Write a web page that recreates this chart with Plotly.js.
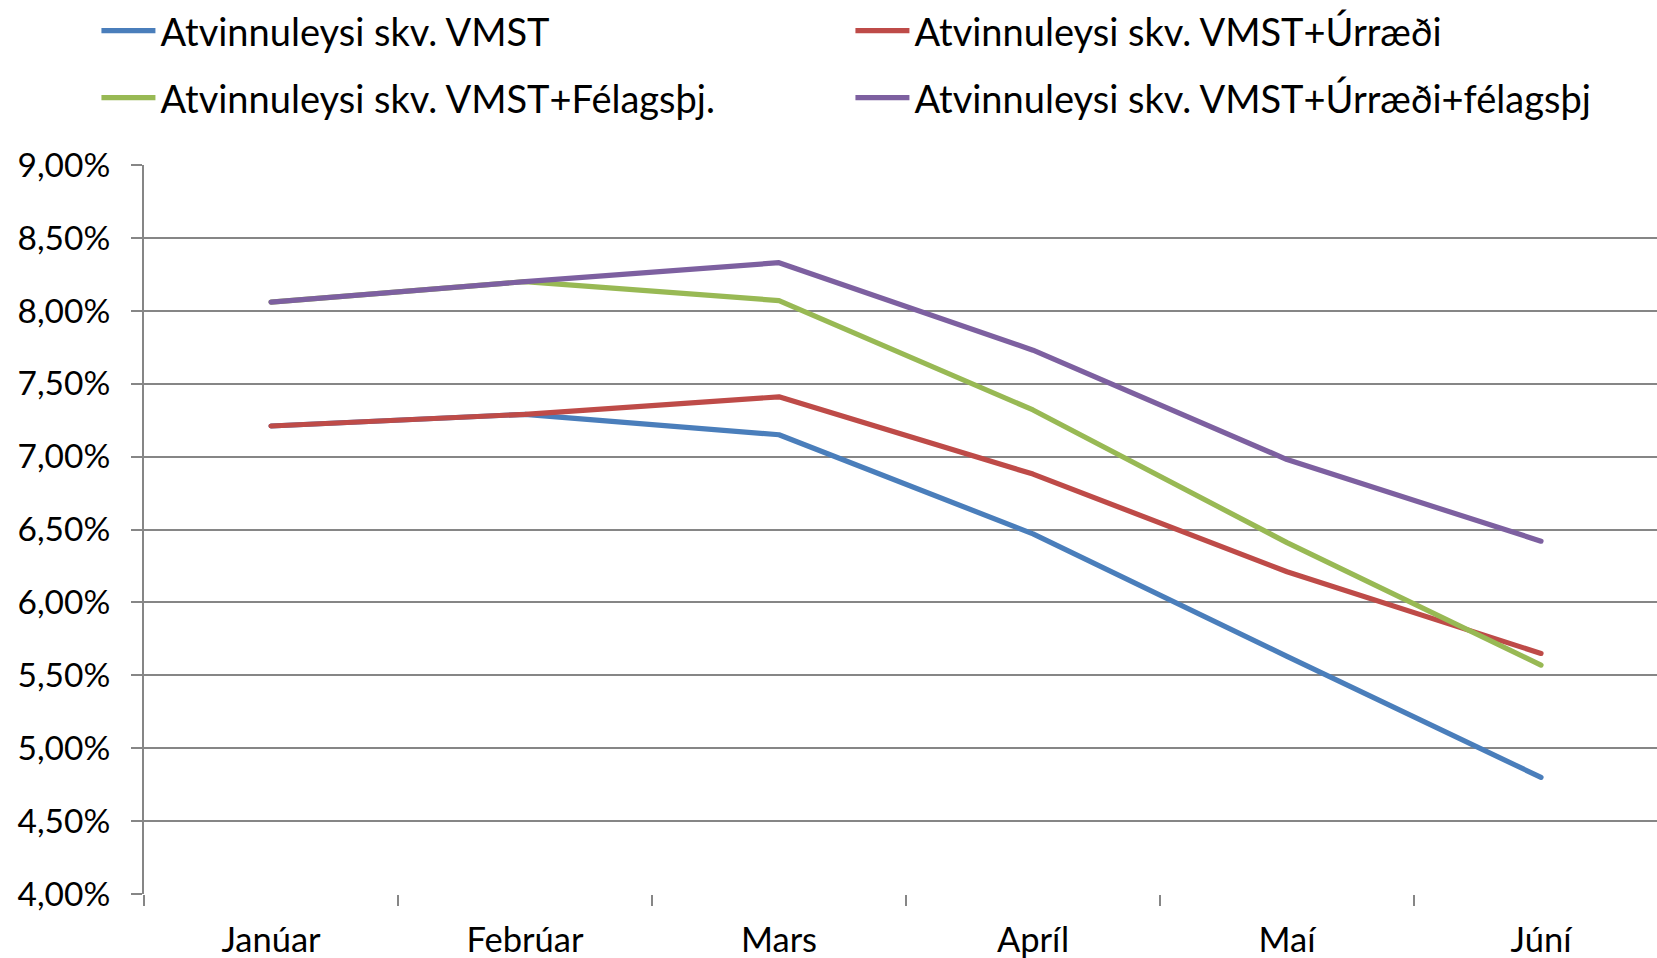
<!DOCTYPE html>
<html>
<head>
<meta charset="utf-8">
<script src="https://cdn.plot.ly/plotly-3.0.1.min.js"></script>
<style>
  html, body { margin: 0; padding: 0; background: #ffffff; }
  #chart { width: 1657px; height: 958px; }
  #chart .scatterlayer .js-line { stroke-linecap: round; stroke-linejoin: round; }
</style>
</head>
<body>
<div id="chart"></div>
<script>
// Categories (months)
const months = ['Janúar', 'Febrúar', 'Mars', 'Apríl', 'Maí', 'Júní'];

// Series names
const seriesNames = [
  'Atvinnuleysi skv. VMST',
  'Atvinnuleysi skv. VMST+Úrræði',
  'Atvinnuleysi skv. VMST+Félagsþj.',
  'Atvinnuleysi skv. VMST+Úrræði+félagsþj'
];

// Values in percent
const vmst = [7.21, 7.29, 7.15, 6.47, 5.63, 4.80];
const vmstUrraedi = [7.21, 7.29, 7.41, 6.88, 6.21, 5.65];
const vmstFelagsthj = [8.06, 8.20, 8.07, 7.32, 6.41, 5.57];
const vmstUrraediFelagsthj = [8.06, 8.20, 8.33, 7.73, 6.98, 6.42];

const colors = ['#4A7EBB', '#BE4B48', '#98B954', '#7D60A0'];
const seriesValues = [vmst, vmstUrraedi, vmstFelagsthj, vmstUrraediFelagsthj];
const legendRows = ['legend', 'legend', 'legend2', 'legend2'];

const FONT = 'Lato, "Open Sans", sans-serif';

const traces = seriesValues.map((vals, i) => ({
  type: 'scatter',
  mode: 'lines',
  x: months,
  y: vals,
  name: seriesNames[i],
  legend: legendRows[i],
  line: { color: colors[i], width: 5.2 },
  hoverinfo: 'x+y+name'
}));

const legendCommon = {
  orientation: 'h',
  xref: 'container',
  yref: 'container',
  x: 0.0582,
  xanchor: 'left',
  yanchor: 'middle',
  entrywidth: 685,
  entrywidthmode: 'pixels',
  itemwidth: 54,
  traceorder: 'normal',
  font: { family: FONT, size: 38, color: '#000000' },
  bgcolor: 'rgba(0,0,0,0)'
};

const layout = {
  width: 1657,
  height: 958,
  margin: { l: 144, r: 0, t: 165, b: 64, pad: 0, autoexpand: false },
  paper_bgcolor: '#ffffff',
  plot_bgcolor: '#ffffff',
  separators: ',.',
  font: { family: FONT, color: '#000000', size: 34 },
  showlegend: true,
  legend: Object.assign({}, legendCommon, { y: 1 - 31 / 958 }),
  legend2: Object.assign({}, legendCommon, { y: 1 - 98 / 958 }),
  xaxis: {
    type: 'category',
    range: [-0.5, 5.4567],
    showgrid: false,
    zeroline: false,
    showline: false,
    ticks: 'outside',
    tickson: 'boundaries',
    ticklen: 11,
    tickwidth: 1.5,
    tickcolor: '#868686',
    ticklabelstandoff: 22,
    tickfont: { family: FONT, size: 34.5, color: '#000000' },
    fixedrange: true
  },
  yaxis: {
    range: [4, 9],
    dtick: 0.5,
    tick0: 4,
    tickformat: '.2f',
    ticksuffix: '%',
    showgrid: true,
    gridcolor: '#868686',
    gridwidth: 2,
    zeroline: false,
    showline: true,
    linecolor: '#868686',
    linewidth: 2,
    ticks: 'outside',
    ticklen: 11,
    tickwidth: 2,
    tickcolor: '#868686',
    ticklabelstandoff: 14,
    tickfont: { family: FONT, size: 33.5, color: '#000000' },
    fixedrange: true
  }
};

Plotly.newPlot('chart', traces, layout, { displayModeBar: false, staticPlot: false });
</script>
</body>
</html>
